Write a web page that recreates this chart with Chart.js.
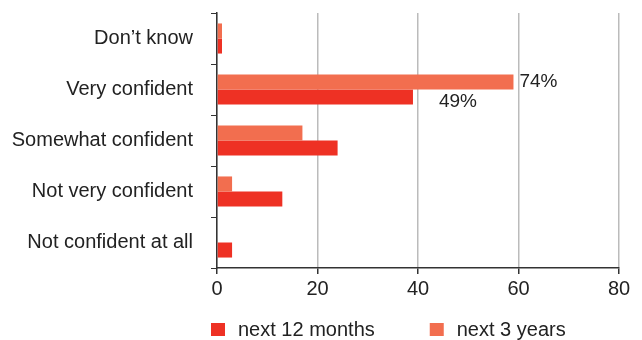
<!DOCTYPE html>
<html>
<head>
<meta charset="utf-8">
<script src="https://cdn.jsdelivr.net/npm/chart.js@4"></script>
<style>
  html, body { margin: 0; padding: 0; background: #fff; }
  #wrap { width: 642px; height: 340px; }
</style>
</head>
<body>
<div id="wrap"><canvas id="chart"></canvas></div>
<script>
const categorias = ['Don\u2019t know', 'Very confident', 'Somewhat confident', 'Not very confident', 'Not confident at all'];
const tresAnos = [1, 59, 17, 3, 0];
const dozeMeses = [1, 39, 24, 13, 3];
const rotulosTresAnos = [null, '74%', null, null, null];
const rotulosDozeMeses = [null, '49%', null, null, null];
const ticksX = [0, 20, 40, 60, 80];

const fonte = '"Liberation Sans", Arial, Helvetica, sans-serif';
const corTexto = '#222';

// rotulos de valor ao lado das barras
const rotulosPlugin = {
    id: 'rotulos',
    afterDatasetsDraw(chart) {
        const ctx = chart.ctx;
        ctx.save();
        ctx.font = '19px ' + fonte;
        ctx.fillStyle = corTexto;
        ctx.textBaseline = 'middle';
        ctx.textAlign = 'left';
        const desloc = [[6, 0], [26, 5]];
        chart.data.datasets.forEach((ds, i) => {
            const meta = chart.getDatasetMeta(i);
            ds.rotulos.forEach((txt, j) => {
                if (!txt) return;
                const bar = meta.data[j];
                ctx.fillText(txt, bar.x + desloc[i][0], bar.y + desloc[i][1]);
            });
        });
        ctx.restore();
    }
};

// legenda desenhada a mao
const legendaPlugin = {
    id: 'legenda',
    afterDraw(chart) {
        const ctx = chart.ctx;
        ctx.save();
        ctx.font = '20px ' + fonte;
        ctx.textBaseline = 'middle';
        let x = 211;
        const y = 330;
        [1, 0].forEach(i => {
            const ds = chart.data.datasets[i];
            ctx.fillStyle = ds.backgroundColor;
            ctx.fillRect(x, y - 7, 14, 13);
            ctx.fillStyle = corTexto;
            ctx.fillText(ds.label, x + 27, y);
            x += 27 + ctx.measureText(ds.label).width + 55;
        });
        ctx.restore();
    }
};

const ctx = document.getElementById('chart').getContext('2d');
new Chart(ctx, {
    type: 'bar',
    data: {
        labels: categorias,
        datasets: [{
            label: 'next 3 years',
            data: tresAnos,
            rotulos: rotulosTresAnos,
            backgroundColor: '#F26E4F'
        }, {
            label: 'next 12 months',
            data: dozeMeses,
            rotulos: rotulosDozeMeses,
            backgroundColor: '#EE3124'
        }]
    },
    options: {
        indexAxis: 'y',
        responsive: true,
        maintainAspectRatio: false,
        animation: false,
        devicePixelRatio: 1,
        categoryPercentage: 0.59,
        barPercentage: 1.0,
        layout: { padding: { top: 13, right: 23, bottom: 42, left: 0 } },
        plugins: {
            legend: { display: false },
            tooltip: { enabled: false }
        },
        scales: {
            x: {
                min: 0,
                max: 80,
                afterBuildTicks: scale => { scale.ticks = ticksX.map(v => ({ value: v })); },
                afterFit: scale => {
                    scale.height = 30;
                    scale.paddingLeft = 0;
                    scale.paddingRight = 0;
                },
                grid: { color: '#bbb', lineWidth: 1.5, tickColor: '#333', tickLength: 6 },
                border: { color: '#333', width: 1.5 },
                ticks: { color: corTexto, font: { family: fonte, size: 20 }, padding: 3 }
            },
            y: {
                afterFit: scale => {
                    scale.width = 217;
                    scale.paddingTop = 0;
                    scale.paddingBottom = 0;
                },
                grid: { offset: true, drawOnChartArea: false, tickColor: '#333', tickLength: 6 },
                border: { color: '#333', width: 1.5 },
                ticks: { color: corTexto, font: { family: fonte, size: 20 }, padding: 18 }
            }
        }
    },
    plugins: [rotulosPlugin, legendaPlugin]
});
</script>
</body>
</html>
